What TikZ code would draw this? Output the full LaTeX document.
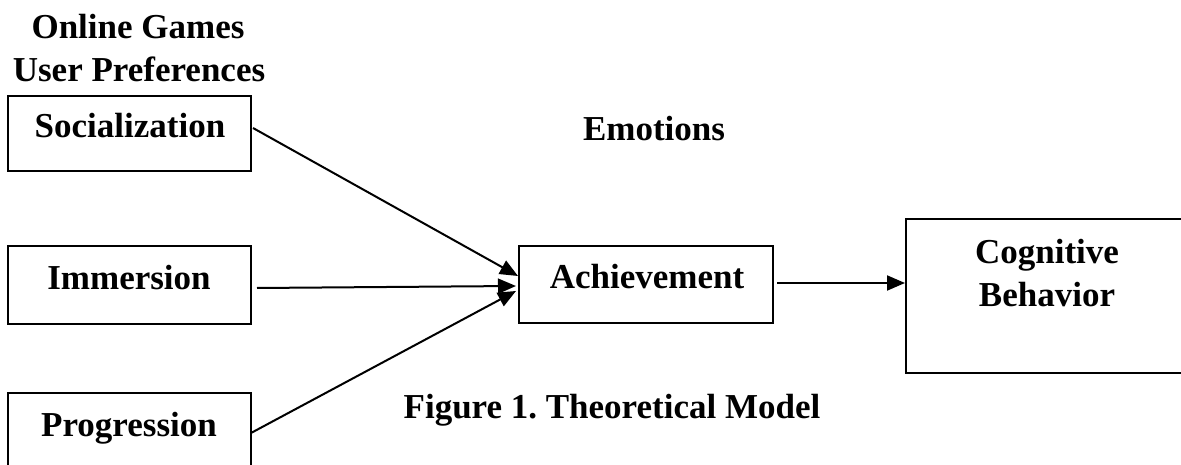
\documentclass[tikz,border=0pt]{standalone}
\usepackage{fontspec}
\setmainfont{Liberation Serif}
\usetikzlibrary{arrows.meta}
\frenchspacing
\begin{document}
\begin{tikzpicture}[x=1pt,y=-1pt,
  box/.style={draw=black,line width=2pt,rectangle,inner sep=0pt},
  lbl/.style={anchor=base,inner sep=0pt,font=\fontsize{35}{42}\selectfont\bfseries},
  conn/.style={line width=2pt,-{Triangle[length=18pt,width=15pt]}}]
\useasboundingbox (0,0) rectangle (1181,465);
\begin{scope}
\clip (0,0) rectangle (1181,465);
% boxes
\node[box,minimum width=243pt,minimum height=75pt] (soc) at (129.5,133.5) {};
\node[box,minimum width=243pt,minimum height=78pt] (imm) at (129.5,285) {};
\node[box,minimum width=243pt,minimum height=100pt] (prog) at (129.5,443) {};
\node[box,minimum width=254pt,minimum height=77pt] (ach) at (646,284.5) {};
\node[box,minimum width=290pt,minimum height=154pt] (cog) at (1051,296) {};
\end{scope}
% texts
\node[lbl] (t1) at (138,39) {Online Games};
\node[lbl] (t2) at (139,82) {User Preferences};
\node[lbl] (tsoc) at (130,138) {Socialization};
\node[lbl] (timm) at (129,289) {Immersion};
\node[lbl] (tprog) at (129,436) {Progression};
\node[lbl] (tach) at (647,288) {Achievement};
\node[lbl] (temo) at (654,141) {Emotions};
\node[lbl] (tcog1) at (1047,263) {Cognitive};
\node[lbl] (tcog2) at (1047,306) {Behavior};
\node[lbl] (tfig) at (612,418) {Figure 1. Theoretical Model};
% connector end points
\coordinate (s1) at (253,128);
\coordinate (s2) at (518,276);
\coordinate (i1) at (257,288);
\coordinate (i2) at (516,286);
\coordinate (p1) at (251,433);
\coordinate (p2) at (516,291);
\coordinate (a1) at (777,283);
\coordinate (a2) at (905,283);
\draw[conn] (s1) -- (s2);
\draw[conn] (i1) -- (i2);
\draw[conn] (p1) -- (p2);
\draw[conn] (a1) -- (a2);
\end{tikzpicture}
\end{document}
